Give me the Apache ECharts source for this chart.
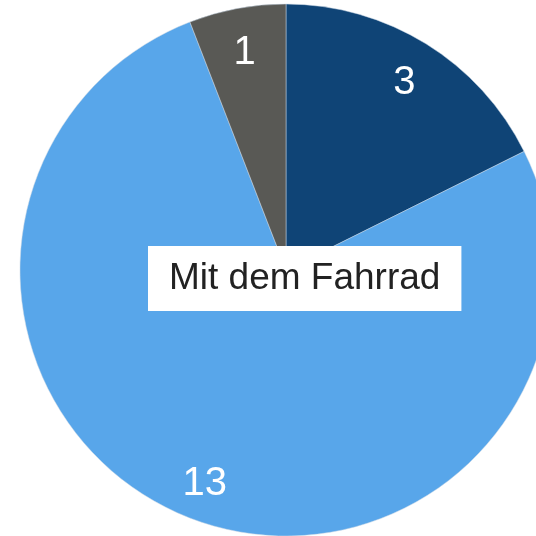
<!DOCTYPE html>
<html>
<head>
<meta charset="utf-8">
<script src="https://cdn.jsdelivr.net/npm/echarts@6/dist/echarts.min.js"></script>
<style>
  html, body { margin: 0; padding: 0; background: #fff; }
  #PieChart { width: 536px; height: 536px; }
</style>
</head>
<body>
<div id="PieChart"></div>
<script>
// data
const categories = ["A", "Mit dem Fahrrad", "C"];
const values = [3, 13, 1];
const colors = ["#0f4476", "#58a6ea", "#595955"];
const chartTitle = "Mit dem Fahrrad";

const el = document.getElementById("PieChart");
const chart = echarts.init(el);
const pieData = categories.map((name, i) => ({
  name: name,
  value: values[i],
  itemStyle: { color: colors[i] },
}));

const options = {
  animation: false,
  title: {
    text: chartTitle,
    left: 148,
    top: 246,
    padding: [14, 21, 14, 21],
    backgroundColor: "#ffffff",
    textStyle: {
      fontFamily: "Liberation Sans, Arial, sans-serif",
      fontSize: 37,
      lineHeight: 37,
      fontWeight: "normal",
      color: "#222222",
    },
    z: 10,
  },
  series: [
    {
      type: "pie",
      center: [286, 270],
      radius: 266,
      startAngle: 90,
      silent: true,
      label: { show: false },
      labelLine: { show: false },
      itemStyle: { borderColor: "#c9d6e4", borderWidth: 0.5 },
      data: pieData,
    },
    {
      // transparent ring used only to place value labels near the rim
      type: "pie",
      center: [286, 270],
      radius: [178, 266],
      startAngle: 90,
      silent: true,
      itemStyle: { color: "rgba(0,0,0,0)" },
      label: {
        show: true,
        position: "inside",
        formatter: "{c}",
        color: "#ffffff",
        fontFamily: "Liberation Sans, Arial, sans-serif",
        fontSize: 40,
        offset: [0, 4],
      },
      labelLine: { show: false },
      data: categories.map((name, i) => ({ name: name, value: values[i] })),
    },
  ],
};
chart.setOption(options);
</script>
</body>
</html>
